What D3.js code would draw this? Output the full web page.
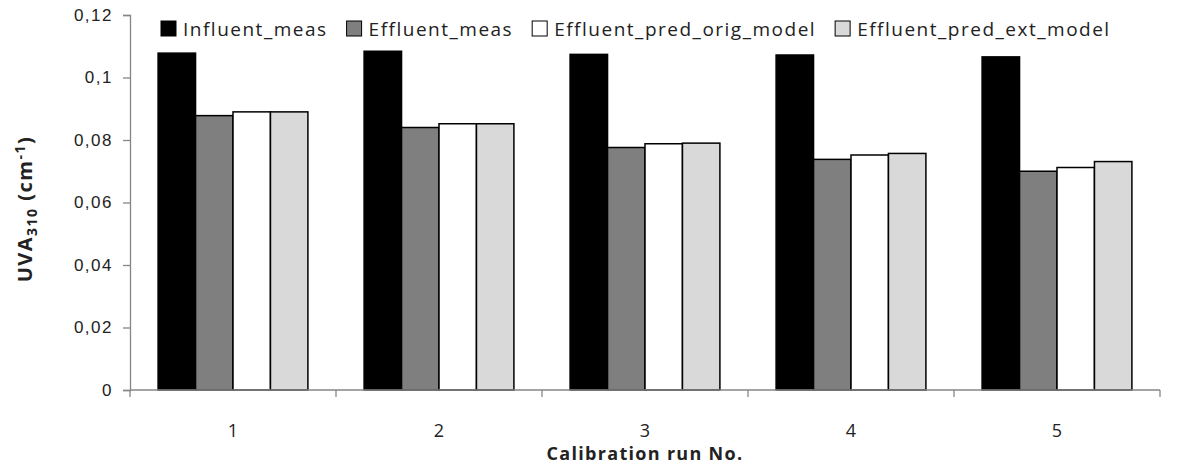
<!DOCTYPE html>
<html>
<head>
<meta charset="utf-8">
<script src="https://cdn.jsdelivr.net/npm/d3@7"></script>
<style>
  html, body { margin: 0; padding: 0; background: #fff; }
  svg { display: block; font-family: "Open Sans", sans-serif; }
</style>
</head>
<body>
<div id="chart"></div>
<script>
const runs = ["1", "2", "3", "4", "5"];
const seriesNames = ["Influent_meas", "Effluent_meas", "Effluent_pred_orig_model", "Effluent_pred_ext_model"];
const influentMeas = [0.1078, 0.1084, 0.1074, 0.1072, 0.1066];
const effluentMeas = [0.0878, 0.0840, 0.0776, 0.0738, 0.0700];
const effluentPredOrig = [0.0890, 0.0852, 0.0788, 0.0752, 0.0712];
const effluentPredExt = [0.0890, 0.0852, 0.0790, 0.0757, 0.0731];
const yTicks = [0, 0.02, 0.04, 0.06, 0.08, 0.1, 0.12];
const seriesColors = ["#000000", "#7f7f7f", "#ffffff", "#d9d9d9"];

const seriesValues = [influentMeas, effluentMeas, effluentPredOrig, effluentPredExt];

const W = 1188, H = 465;
const margin = { top: 15, right: 28, bottom: 75, left: 130 };
const width = W - margin.left - margin.right;
const height = H - margin.top - margin.bottom;

const fmt = d3.formatLocale({ decimal: ",", thousands: ".", grouping: [3], currency: ["", ""] }).format("~g");

const svgRoot = d3.select("#chart").append("svg")
  .attr("width", W).attr("height", H);
const svg = svgRoot.append("g").attr("transform", `translate(${margin.left},${margin.top})`);

const x0 = d3.scaleBand().domain(runs).range([0, width]).padding(0);
const x1 = d3.scaleBand().domain(seriesNames).range([0, x0.bandwidth()]).paddingInner(0).paddingOuter(0.75);
const y = d3.scaleLinear().domain([0, 0.12]).range([height, 0]);
const color = d3.scaleOrdinal().domain(seriesNames).range(seriesColors);

const axisColor = "#868686";

// bars
const groups = svg.append("g").selectAll("g")
  .data(runs)
  .join("g")
  .attr("transform", d => `translate(${x0(d)},0)`);

groups.selectAll("rect")
  .data((d, j) => seriesNames.map((s, i) => ({ run: d, name: s, value: seriesValues[i][j] })))
  .join("rect")
  .attr("x", d => x1(d.name))
  .attr("width", x1.bandwidth())
  .attr("y", d => y(d.value))
  .attr("height", d => height - y(d.value))
  .attr("fill", d => color(d.name))
  .attr("stroke", "#000")
  .attr("stroke-width", 1.5);

// y axis
const yAxisG = svg.append("g")
  .call(d3.axisLeft(y).tickValues(yTicks).tickFormat(fmt).tickSize(7).tickPadding(10));
yAxisG.select(".domain").attr("stroke", axisColor).attr("stroke-width", 1.3);
yAxisG.selectAll(".tick line").attr("stroke", axisColor).attr("stroke-width", 1.3);
yAxisG.selectAll(".tick text")
  .attr("fill", "#222").style("font-size", "17px").style("letter-spacing", "1.5px");

// x axis with ticks at category boundaries
const xAxisG = svg.append("g").attr("transform", `translate(0,${height})`);
xAxisG.append("line")
  .attr("x1", 0).attr("x2", width)
  .attr("stroke", axisColor).attr("stroke-width", 1.3);
xAxisG.selectAll(".bound")
  .data(runs.concat("end"))
  .join("line")
  .attr("class", "bound")
  .attr("x1", d => d === "end" ? width : x0(d))
  .attr("x2", d => d === "end" ? width : x0(d))
  .attr("y1", 0).attr("y2", 7)
  .attr("stroke", axisColor).attr("stroke-width", 1.3);
xAxisG.selectAll(".lbl")
  .data(runs)
  .join("text")
  .attr("class", "lbl")
  .attr("x", d => x0(d) + x0.bandwidth() / 2)
  .attr("y", 47)
  .attr("text-anchor", "middle")
  .attr("fill", "#222")
  .style("font-size", "18px")
  .text(d => d);

// axis titles
svg.append("text")
  .attr("x", width / 2).attr("y", height + 70)
  .attr("text-anchor", "middle")
  .attr("fill", "#222")
  .style("font-size", "18px").style("font-weight", "bold").style("letter-spacing", "1.3px")
  .text("Calibration run No.");

const yTitle = svgRoot.append("text")
  .attr("transform", `translate(32,209) rotate(-90)`)
  .attr("text-anchor", "middle")
  .attr("fill", "#222")
  .style("font-size", "20px").style("font-weight", "bold").style("letter-spacing", "1.5px");
yTitle.append("tspan").text("UVA");
yTitle.append("tspan").attr("dy", 5).style("font-size", "14px").text("310");
yTitle.append("tspan").attr("dy", -5).text(" (cm");
yTitle.append("tspan").attr("dy", -7).style("font-size", "14px").text("-1");
yTitle.append("tspan").attr("dy", 7).text(")");

// legend
const legend = svgRoot.append("g").attr("transform", "translate(161,21)");
let lx = 0;
seriesNames.forEach(name => {
  const item = legend.append("g").attr("transform", `translate(${lx},0)`);
  item.append("rect")
    .attr("width", 15).attr("height", 15)
    .attr("fill", color(name))
    .attr("stroke", "#000").attr("stroke-width", 1);
  const t = item.append("text")
    .attr("x", 22).attr("y", 15)
    .attr("fill", "#222")
    .style("font-size", "19px").style("letter-spacing", "1.5px")
    .text(name);
  lx += 22 + t.node().getComputedTextLength() + 19;
});
</script>
</body>
</html>
